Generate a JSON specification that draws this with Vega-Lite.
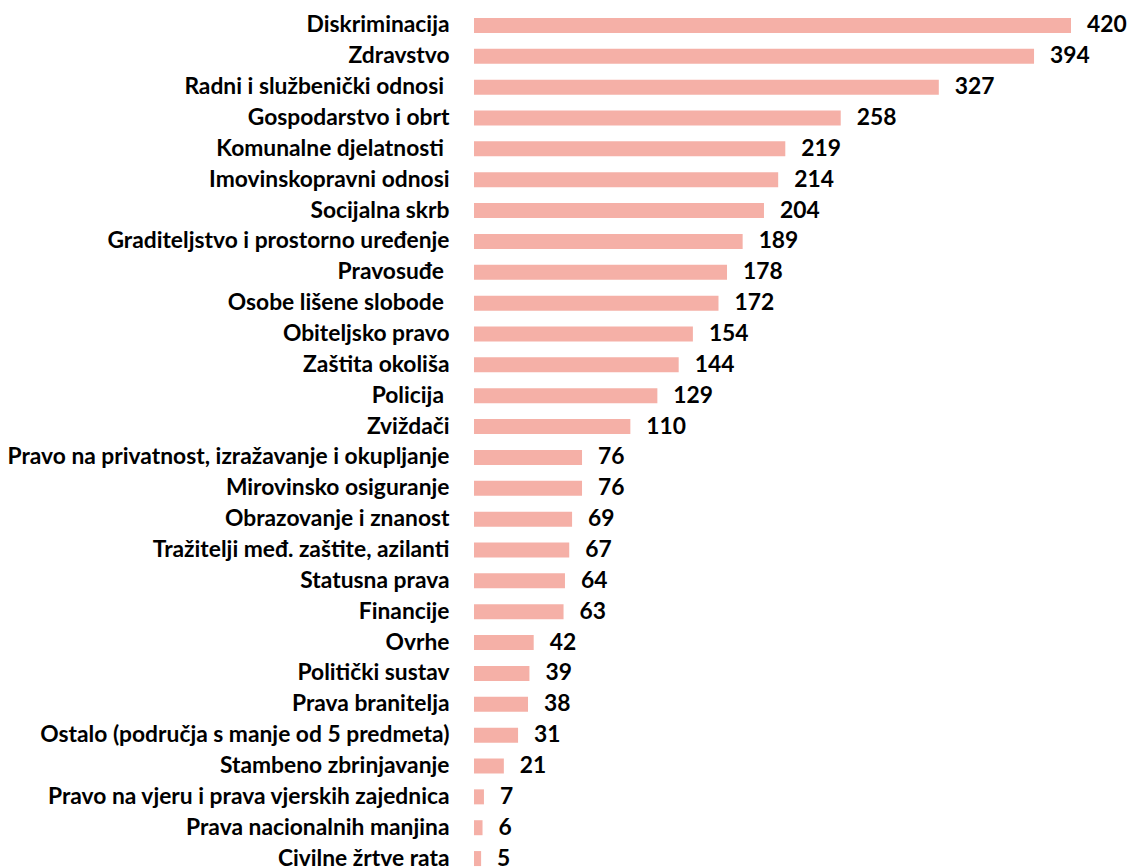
{
  "$schema": "https://vega.github.io/schema/vega-lite/v6.json",
  "width": 597,
  "height": 864,
  "autosize": {"type": "none"},
  "padding": {"left": 474, "top": 10, "right": 56, "bottom": 0},
  "background": "white",
  "config": {"view": {"stroke": null}, "font": "Lato"},
  "data": {
    "values": [
      {"podrucje": "Diskriminacija", "broj": 420},
      {"podrucje": "Zdravstvo", "broj": 394},
      {"podrucje": "Radni i službenički odnosi\u00a0\u200b", "broj": 327},
      {"podrucje": "Gospodarstvo i obrt", "broj": 258},
      {"podrucje": "Komunalne djelatnosti\u00a0\u200b", "broj": 219},
      {"podrucje": "Imovinskopravni odnosi", "broj": 214},
      {"podrucje": "Socijalna skrb", "broj": 204},
      {"podrucje": "Graditeljstvo i prostorno uređenje", "broj": 189},
      {"podrucje": "Pravosuđe\u00a0\u200b", "broj": 178},
      {"podrucje": "Osobe lišene slobode\u00a0\u200b", "broj": 172},
      {"podrucje": "Obiteljsko pravo", "broj": 154},
      {"podrucje": "Zaštita okoliša", "broj": 144},
      {"podrucje": "Policija\u00a0\u200b", "broj": 129},
      {"podrucje": "Zviždači", "broj": 110},
      {"podrucje": "Pravo na privatnost, izražavanje i okupljanje", "broj": 76},
      {"podrucje": "Mirovinsko osiguranje", "broj": 76},
      {"podrucje": "Obrazovanje i znanost", "broj": 69},
      {"podrucje": "Tražitelji međ. zaštite, azilanti", "broj": 67},
      {"podrucje": "Statusna prava", "broj": 64},
      {"podrucje": "Financije", "broj": 63},
      {"podrucje": "Ovrhe", "broj": 42},
      {"podrucje": "Politički sustav", "broj": 39},
      {"podrucje": "Prava branitelja", "broj": 38},
      {"podrucje": "Ostalo (područja s manje od 5 predmeta)", "broj": 31},
      {"podrucje": "Stambeno zbrinjavanje", "broj": 21},
      {"podrucje": "Pravo na vjeru i prava vjerskih zajednica", "broj": 7},
      {"podrucje": "Prava nacionalnih manjina", "broj": 6},
      {"podrucje": "Civilne žrtve rata", "broj": 5}
    ]
  },
  "encoding": {
    "y": {
      "field": "podrucje",
      "type": "nominal",
      "sort": null,
      "scale": {"paddingInner": 0, "paddingOuter": 0},
      "axis": {
        "title": null,
        "domain": false,
        "ticks": false,
        "labelPadding": 25,
        "labelFontSize": 22.8,
        "labelFontWeight": "bold",
        "labelColor": "#000000",
        "labelLimit": 0,
        "labelFont": "Lato"
      }
    },
    "x": {
      "field": "broj",
      "type": "quantitative",
      "scale": {"domain": [0, 420], "nice": false, "zero": true},
      "axis": null
    }
  },
  "layer": [
    {"mark": {"type": "bar", "size": 15, "color": "#F5B0A7"}},
    {
      "mark": {"type": "text", "align": "left", "baseline": "middle", "dx": 16, "fontSize": 22.8, "fontWeight": "bold", "color": "#000000", "font": "Lato"},
      "encoding": {"text": {"field": "broj", "type": "quantitative"}}
    }
  ]
}
